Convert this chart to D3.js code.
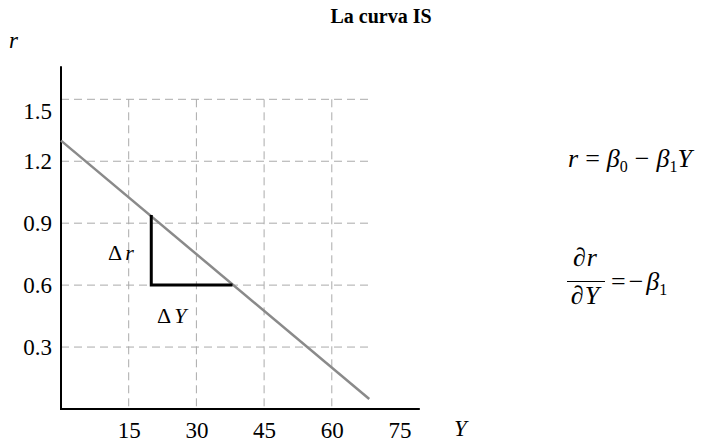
<!DOCTYPE html>
<html>
<head>
<meta charset="utf-8">
<script src="https://cdn.jsdelivr.net/npm/d3@7"></script>
<style>
  body { margin: 0; background: #fff; }
  svg { display: block; }
  text { font-family: "Liberation Serif", "Times New Roman", serif; }
</style>
</head>
<body>
<svg id="chart" width="702" height="443"></svg>
<script>
// ---- data ----
const title = "La curva IS";
const xTicks = [15, 30, 45, 60, 75];
const yTicks = [0.3, 0.6, 0.9, 1.2, 1.5];
const xGrid = [15, 30, 45, 60];
const yGrid = [0.3, 0.6, 0.9, 1.2, 1.5];
const beta0 = 1.3;
const beta1 = 0.01833;
const curveY = [0, 68.3];           // Y range of the IS line
const triangle = [[20, 0.94], [20, 0.6], [38, 0.6]];
const xAxisMax = 79.5, yAxisMax = 1.66, gridXMax = 68.4;

// ---- layout ----
const svg = d3.select("#chart");
const x = d3.scaleLinear().domain([0, 75]).range([61, 399.5]);
const y = d3.scaleLinear().domain([0, 1.5]).range([409, 99.3]);

// gridlines
const grid = svg.append("g").attr("stroke", "#aaa").attr("stroke-width", 1)
  .attr("stroke-dasharray", "8,5").attr("fill", "none");
grid.selectAll(".hg").data(yGrid).join("line")
  .attr("x1", x(0)).attr("x2", x(gridXMax))
  .attr("y1", d => y(d)).attr("y2", d => y(d));
grid.selectAll(".vg").data(xGrid).join("line")
  .attr("x1", d => x(d)).attr("x2", d => x(d))
  .attr("y1", y(1.5)).attr("y2", y(0));

// axes lines
svg.append("line").attr("x1", x(0)).attr("x2", x(0)).attr("y1", y(0)).attr("y2", y(yAxisMax))
  .attr("stroke", "#000").attr("stroke-width", 2);
svg.append("line").attr("x1", x(0) - 1).attr("x2", x(xAxisMax)).attr("y1", y(0)).attr("y2", y(0))
  .attr("stroke", "#000").attr("stroke-width", 2);

// tick labels via d3 axes
const xAxis = svg.append("g").attr("transform", `translate(0,${y(0)})`)
  .call(d3.axisBottom(x).tickValues(xTicks).tickSize(0).tickPadding(13).tickFormat(d3.format("d")));
const yAxis = svg.append("g").attr("transform", `translate(${x(0)},0)`)
  .call(d3.axisLeft(y).tickValues(yTicks).tickSize(0).tickPadding(9).tickFormat(d3.format(".1f")));
[xAxis, yAxis].forEach(a => {
  a.select(".domain").remove();
  a.selectAll("text").attr("font-family", "Liberation Serif, serif").attr("font-size", 23).attr("fill", "#000");
});
yAxis.selectAll(".tick").filter(d => d === 1.5).select("text").attr("dy", "0.82em");

// IS line
const line = d3.line().x(d => x(d)).y(d => y(beta0 - beta1 * d));
svg.append("path").datum(curveY).attr("d", line)
  .attr("stroke", "#8a8a8a").attr("stroke-width", 2.5).attr("fill", "none");

// triangle
svg.append("path").datum(triangle)
  .attr("d", d3.line().x(d => x(d[0])).y(d => y(d[1])))
  .attr("stroke", "#000").attr("stroke-width", 3).attr("fill", "none");

// title
svg.append("text").attr("x", 381).attr("y", 23).attr("text-anchor", "middle")
  .attr("font-weight", "bold").attr("font-size", 20).text(title);

// axis labels
svg.append("text").attr("x", 9).attr("y", 48).attr("font-style", "italic").attr("font-size", 23).text("r");
svg.append("text").attr("x", 454).attr("y", 436).attr("font-style", "italic").attr("font-size", 23).text("Y");

// delta labels
const dr = svg.append("text").attr("x", 108).attr("y", 260).attr("font-size", 22);
dr.append("tspan").text("Δ");
dr.append("tspan").attr("dx", 3).attr("font-style", "italic").text("r");
const dY = svg.append("text").attr("x", 157).attr("y", 323).attr("font-size", 22);
dY.append("tspan").text("Δ");
dY.append("tspan").attr("dx", 3).attr("font-style", "italic").text("Y");

// equation 1
const e1 = svg.append("text").attr("x", 568).attr("y", 167).attr("font-size", 26);
e1.append("tspan").attr("font-style", "italic").text("r");
e1.append("tspan").attr("dx", 7).text("=");
e1.append("tspan").attr("dx", 7).attr("font-style", "italic").text("β");
e1.append("tspan").attr("font-size", 16).attr("dy", 5).text("0");
e1.append("tspan").attr("dx", 7).attr("dy", -5).text("−");
e1.append("tspan").attr("dx", 7).attr("font-style", "italic").text("β");
e1.append("tspan").attr("font-size", 16).attr("dy", 5).text("1");
e1.append("tspan").attr("dy", -5).attr("font-style", "italic").text("Y");

// equation 2 (fraction)
const num = svg.append("text").attr("x", 585).attr("y", 266).attr("font-size", 26).attr("text-anchor", "middle");
num.append("tspan").text("∂");
num.append("tspan").attr("dx", 1).attr("font-style", "italic").text("r");
svg.append("line").attr("x1", 567).attr("x2", 605).attr("y1", 281.5).attr("y2", 281.5)
  .attr("stroke", "#000").attr("stroke-width", 1.2);
const den = svg.append("text").attr("x", 585).attr("y", 304).attr("font-size", 26).attr("text-anchor", "middle");
den.append("tspan").text("∂");
den.append("tspan").attr("dx", 1).attr("font-style", "italic").text("Y");
const e2 = svg.append("text").attr("x", 611).attr("y", 290).attr("font-size", 26);
e2.append("tspan").text("=");
e2.append("tspan").attr("dx", 3).text("−");
e2.append("tspan").attr("dx", 3).attr("font-style", "italic").text("β");
e2.append("tspan").attr("font-size", 16).attr("dy", 5).text("1");
</script>
</body>
</html>
